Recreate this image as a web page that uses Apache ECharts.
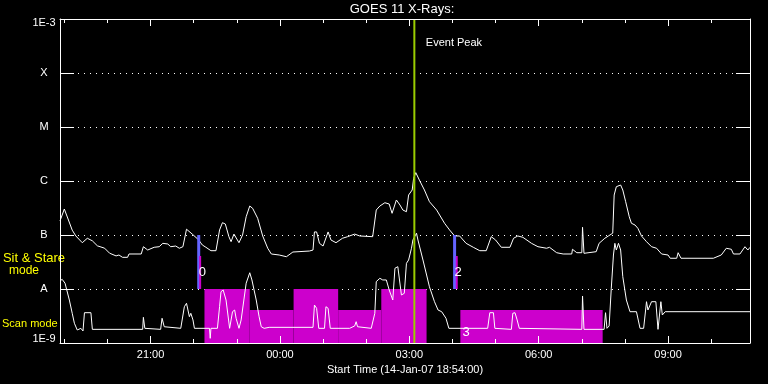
<!DOCTYPE html>
<html>
<head>
<meta charset="utf-8">
<script src="https://cdn.jsdelivr.net/npm/echarts@6/dist/echarts.min.js"></script>
<style>
html,body{margin:0;padding:0;background:#000;}
#chart{width:768px;height:384px;}
</style>
</head>
<body>
<div id="chart"></div>
<script>
// ---- Data (time = minutes after start 14-Jan-07 18:54:00; flux in W/m^2) ----
const chartTitle = 'GOES 11 X-Rays:';
const xAxisTitle = 'Start Time (14-Jan-07 18:54:00)';

const minorTickMinutes = [6, 66, 126, 186, 246, 306, 366, 426, 486, 546, 606, 666, 726, 786, 846, 906];
const majorTickMinutes = [126, 306, 486, 666, 846];
const xTickLabels = ['21:00', '00:00', '03:00', '06:00', '09:00'];

const yTickExponents = [-9, -8, -7, -6, -5, -4, -3];
const yTickLabels = ['1E-9', 'A', 'B', 'C', 'M', 'X', '1E-3'];

// Long channel (upper curve)
const longTime = [
  0, 6, 17, 22, 31, 38, 45, 52, 62, 69,
  78, 82, 87, 94, 96, 113, 116, 122, 131, 138,
  143, 150, 154, 161, 166, 171, 176, 184, 193, 198,
  203, 210, 217, 222, 226, 230, 235, 238, 242, 249,
  254, 259, 264, 268, 275, 282, 289, 294, 305, 315,
  324, 347, 352, 354, 357, 361, 366, 369, 373, 377,
  384, 393, 400, 410, 417, 435, 440, 445, 452, 458,
  462, 468, 473, 477, 482, 485, 490, 492, 495, 500,
  507, 514, 524, 535, 542, 549, 556, 565, 575, 584,
  593, 600, 606, 614, 626, 631, 637, 644, 656, 665,
  677, 681, 691, 700, 712, 713, 719, 726, 727, 729,
  746, 750, 758, 763, 769, 771, 774, 780, 783, 787,
  792, 795, 800, 804, 809, 816, 823, 830, 837, 846,
  849, 858, 860, 864, 909, 920, 927, 934, 937, 946,
  953, 957, 960
];
const longFlux = [
  1.82e-7, 3.03e-7, 1.23e-7, 9.6e-8, 7.2e-8, 8.7e-8, 7.8e-8, 6.3e-8, 5.7e-8, 4.6e-8,
  4.1e-8, 4.26e-8, 3.86e-8, 3.86e-8, 4.45e-8, 4.45e-8, 6.07e-8, 5.27e-8, 5.92e-8, 6.07e-8,
  7.01e-8, 6.81e-8, 6.07e-8, 6.25e-8, 5.68e-8, 6.07e-8, 1.28e-7, 1.04e-7, 8.08e-8, 6.53e-8,
  5.92e-8, 5.12e-8, 5.12e-8, 1.24e-7, 1.69e-7, 1.60e-7, 9.3e-8, 7.52e-8, 1.04e-7, 7.2e-8,
  1.0e-7, 2.18e-7, 3.44e-7, 3.12e-7, 2.04e-7, 9.6e-8, 5.68e-8, 4.45e-8, 4.26e-8, 3.96e-8,
  4.84e-8, 5.05e-8, 5.27e-8, 1.14e-7, 1.14e-7, 7.01e-8, 6.25e-8, 8.08e-8, 1.14e-7, 8.08e-8,
  7.2e-8, 8.7e-8, 9.3e-8, 1.04e-7, 9.6e-8, 9.3e-8, 2.90e-7, 3.44e-7, 3.96e-7, 3.75e-7,
  2.52e-7, 4.45e-7, 3.59e-7, 2.90e-7, 2.70e-7, 5.50e-7, 6.81e-7, 1.12e-6, 1.43e-6, 1.04e-6,
  6.81e-7, 4.14e-7, 2.90e-7, 1.65e-7, 1.24e-7, 9.6e-8, 9.6e-8, 7.01e-8, 5.92e-8, 5.12e-8,
  5.12e-8, 9.3e-8, 8.08e-8, 5.92e-8, 5.92e-8, 8.7e-8, 9.6e-8, 9.06e-8, 7.01e-8, 6.07e-8,
  5.68e-8, 5.92e-8, 4.70e-8, 4.45e-8, 4.45e-8, 5.44e-8, 4.70e-8, 4.70e-8, 1.39e-7, 4.58e-8,
  4.91e-8, 7.01e-8, 8.7e-8, 9.6e-8, 1.08e-7, 5.50e-7, 7.84e-7, 8.43e-7, 6.81e-7, 4.14e-7,
  2.18e-7, 1.65e-7, 1.53e-7, 1.33e-7, 9.6e-8, 7.52e-8, 6.07e-8, 5.68e-8, 4.45e-8, 4.26e-8,
  3.71e-8, 3.71e-8, 4.70e-8, 3.71e-8, 3.71e-8, 4.26e-8, 5.68e-8, 5.44e-8, 4.45e-8, 4.45e-8,
  6.07e-8, 5.27e-8, 5.92e-8
];

// Short channel (lower curve)
const shortTime = [
  0, 3, 7, 13, 17, 20, 24, 29, 32, 34,
  43, 45, 115, 116, 118, 140, 142, 145, 168, 173,
  176, 180, 182, 185, 187, 208, 209, 210, 219, 222,
  224, 227, 231, 236, 240, 243, 245, 249, 252, 259,
  264, 267, 273, 277, 280, 284, 291, 352, 354, 357,
  360, 368, 370, 373, 376, 403, 410, 412, 414, 433,
  438, 440, 445, 449, 454, 458, 463, 466, 470, 475,
  479, 482, 485, 489, 491, 496, 498, 505, 514, 521,
  526, 531, 537, 541, 595, 598, 603, 605, 628, 630,
  633, 636, 639, 726, 727, 729, 757, 759, 761, 764,
  767, 770, 772, 774, 777, 780, 783, 788, 793, 802,
  807, 812, 816, 818, 823, 829, 832, 836, 838, 842,
  960
];
const shortFlux = [
  1.41e-8, 1.51e-8, 1.28e-8, 6.25e-9, 3.55e-9, 2.32e-9, 1.74e-9, 1.87e-9, 1.67e-9, 3.64e-9,
  3.64e-9, 1.79e-9, 1.79e-9, 2.99e-9, 1.87e-9, 1.79e-9, 2.87e-9, 2.0e-9, 1.87e-9, 4.70e-9,
  5.44e-9, 3.07e-9, 3.55e-9, 2.67e-9, 1.87e-9, 1.87e-9, 1.22e-9, 1.87e-9, 1.87e-9, 4.70e-9,
  8.91e-9, 9.6e-9, 6.25e-9, 1.87e-9, 3.80e-9, 4.08e-9, 2.87e-9, 1.87e-9, 2.67e-9, 1.28e-8,
  2.0e-8, 1.47e-8, 6.25e-9, 3.07e-9, 2.0e-9, 1.87e-9, 1.95e-9, 1.95e-9, 5.05e-9, 4.39e-9,
  1.87e-9, 1.87e-9, 4.70e-9, 4.39e-9, 1.87e-9, 1.87e-9, 2.07e-9, 2.48e-9, 2.0e-9, 1.87e-9,
  3.55e-9, 1.37e-8, 1.58e-8, 1.47e-8, 1.47e-8, 9.6e-9, 6.25e-9, 2.42e-8, 2.59e-8, 7.74e-9,
  8.32e-9, 2.99e-8, 3.44e-8, 5.68e-8, 8.08e-8, 1.08e-7, 8.08e-8, 3.44e-8, 1.10e-8, 5.82e-9,
  4.08e-9, 3.80e-9, 2.87e-9, 1.87e-9, 1.87e-9, 3.64e-9, 3.64e-9, 1.87e-9, 1.79e-9, 3.55e-9,
  3.64e-9, 2.67e-9, 1.87e-9, 1.79e-9, 7.42e-9, 1.79e-9, 1.79e-9, 3.64e-9, 1.87e-9, 2.07e-9,
  1.03e-8, 4.26e-8, 7.01e-8, 5.27e-8, 7.01e-8, 5.27e-8, 1.69e-8, 6.25e-9, 3.80e-9, 3.80e-9,
  1.87e-9, 1.87e-9, 5.82e-9, 4.08e-9, 5.82e-9, 5.82e-9, 1.79e-9, 5.82e-9, 3.30e-9, 3.80e-9,
  3.80e-9
];

// Scan-mode periods (magenta blocks)
const scanStart = [201, 264, 325, 387, 447, 557];
const scanEnd   = [264, 325, 387, 447, 510, 755];
const scanTop   = [1e-8, 4.08e-9, 1e-8, 4.08e-9, 1e-8, 4.08e-9];

// Sit & Stare pointings (blue bars + magenta markers + numbers)
const stareTime = [193, 549];
const stareTop = [1e-7, 1e-7];
const stareBottom = [1e-8, 1e-8];
const stareMarkTime = [195, 552];
const stareMarkTop = [4.08e-8, 4.08e-8];
const pointLabel = ['0', '2', '3'];
const pointLabelTime = [198, 554, 565];
const pointLabelFlux = [2.07e-8, 2.07e-8, 1.6e-9];

// Event peak
const eventPeakTime = [493];
const eventPeakText = ['Event Peak'];
const eventPeakTextTime = [509];
const eventPeakTextFlux = [3.59e-4];

const yMin = 1e-9, yMax = 1e-3;

// ---- Chart ----
const FONT = 'Liberation Sans';
const WHITE = '#ffffff';
const YELLOW = '#ffff00';
const MAGENTA = '#cc00cc';
const BLUE = '#6464ff';
const GREEN = '#9acd00';

function pairs(t, v) { return t.map((x, i) => [x, v[i]]); }

function xLabel(v) {
  const i = majorTickMinutes.indexOf(v);
  return i >= 0 ? xTickLabels[i] : '';
}
function yLabel(v) {
  const e = Math.round(Math.log10(v));
  const i = yTickExponents.indexOf(e);
  if (i < 0) return '';
  if (i === yTickExponents.length - 1) return '{top|' + yTickLabels[i] + '}';
  if (i === 0) return '{bot|' + yTickLabels[i] + '}';
  return yTickLabels[i];
}

function xAxisDef(position, tickValues, tickLen, showLine, showLabel, extra) {
  return Object.assign({
    type: 'value', min: 0, max: 960, position: position, z: 10,
    axisLine: { show: showLine, onZero: false, lineStyle: { color: WHITE, width: 1 } },
    axisTick: { show: true, inside: true, length: tickLen, customValues: tickValues, lineStyle: { color: WHITE, width: 1 } },
    axisLabel: showLabel ? { show: true, customValues: majorTickMinutes, formatter: xLabel, color: WHITE, fontFamily: FONT, fontSize: 11, margin: 6 } : { show: false },
    splitLine: { show: false }
  }, extra || {});
}

const chart = echarts.init(document.getElementById('chart'), null, { renderer: 'canvas' });

const option = {
  backgroundColor: '#000000',
  animation: false,
  grid: { left: 60, right: 18, top: 19, bottom: 41, outerBoundsMode: 'none', containLabel: false },
  xAxis: [
    xAxisDef('bottom', minorTickMinutes, 4, true, true, {
      name: xAxisTitle, nameLocation: 'middle', nameGap: 19,
      nameTextStyle: { color: WHITE, fontFamily: FONT, fontSize: 11, verticalAlign: 'top' }
    }),
    xAxisDef('bottom', majorTickMinutes, 7, false, false),
    xAxisDef('top', minorTickMinutes, 4, true, false),
    xAxisDef('top', majorTickMinutes, 7, false, false)
  ],
  yAxis: [
    {
      type: 'log', logBase: 10, min: yMin, max: yMax, splitNumber: 6, position: 'left',
      axisLine: { show: true, onZero: false, lineStyle: { color: WHITE, width: 1 } },
      axisTick: { show: true, inside: true, length: 14, lineStyle: { color: WHITE, width: 1 } },
      axisLabel: {
        show: true, formatter: yLabel, color: WHITE, fontFamily: FONT, fontSize: 11, align: 'center', margin: 16,
        rich: {
          top: { color: WHITE, fontFamily: FONT, fontSize: 11, padding: [8, 0, 0, 0] },
          bot: { color: WHITE, fontFamily: FONT, fontSize: 11, padding: [0, 0, 8, 0] }
        }
      },
      splitLine: { show: true, lineStyle: { color: WHITE, width: 1, type: [1, 5] } },
      minorTick: { show: false }
    },
    {
      type: 'log', logBase: 10, min: yMin, max: yMax, splitNumber: 6, position: 'right',
      axisLine: { show: true, onZero: false, lineStyle: { color: WHITE, width: 1 } },
      axisTick: { show: true, inside: true, length: 14, lineStyle: { color: WHITE, width: 1 } },
      axisLabel: { show: false },
      splitLine: { show: false }
    }
  ],
  graphic: [
    { type: 'text', x: 402, y: 9, style: { text: chartTitle, fill: WHITE, font: '13px "Liberation Sans"', align: 'center', verticalAlign: 'middle' } },
    { type: 'text', x: 34, y: 258, style: { text: 'Sit & Stare', fill: YELLOW, font: '13px "Liberation Sans"', align: 'center', verticalAlign: 'middle' } },
    { type: 'text', x: 24, y: 271, style: { text: 'mode', fill: YELLOW, font: '12px "Liberation Sans"', align: 'center', verticalAlign: 'middle' } },
    { type: 'text', x: 2, y: 324, style: { text: 'Scan mode', fill: YELLOW, font: '11px "Liberation Sans"', align: 'left', verticalAlign: 'middle' } }
  ],
  series: [
    {
      name: 'Scan mode', type: 'custom', coordinateSystem: 'cartesian2d', z: 1,
      data: scanStart.map((s, i) => [s, scanEnd[i], scanTop[i]]),
      encode: { x: [0, 1], y: 2 },
      renderItem: function (params, api) {
        const p0 = api.coord([api.value(0), api.value(2)]);
        const p1 = api.coord([api.value(1), yMin]);
        return { type: 'rect', shape: { x: p0[0], y: p0[1], width: p1[0] - p0[0], height: p1[1] - p0[1] }, style: { fill: MAGENTA } };
      }
    },
    {
      name: 'Long', type: 'line', z: 2, data: pairs(longTime, longFlux),
      showSymbol: false, symbol: 'none', lineStyle: { color: WHITE, width: 1 }, silent: true
    },
    {
      name: 'Short', type: 'line', z: 2, data: pairs(shortTime, shortFlux),
      showSymbol: false, symbol: 'none', lineStyle: { color: WHITE, width: 1 }, silent: true
    },
    {
      name: 'Stare', type: 'custom', coordinateSystem: 'cartesian2d', z: 3,
      data: stareTime.map((t, i) => [t, stareTop[i], stareBottom[i]]),
      encode: { x: 0, y: [1, 2] },
      renderItem: function (params, api) {
        const a = api.coord([api.value(0), api.value(1)]);
        const b = api.coord([api.value(0), api.value(2)]);
        return { type: 'rect', shape: { x: a[0] - 1.5, y: a[1], width: 3, height: b[1] - a[1] }, style: { fill: BLUE } };
      }
    },
    {
      name: 'StareMark', type: 'custom', coordinateSystem: 'cartesian2d', z: 4,
      data: stareMarkTime.map((t, i) => [t, stareMarkTop[i], stareBottom[i]]),
      encode: { x: 0, y: [1, 2] },
      renderItem: function (params, api) {
        const a = api.coord([api.value(0), api.value(1)]);
        const b = api.coord([api.value(0), api.value(2)]);
        return { type: 'rect', shape: { x: a[0] - 1, y: a[1], width: 2, height: b[1] - a[1] }, style: { fill: MAGENTA } };
      }
    },
    {
      name: 'Labels', type: 'custom', coordinateSystem: 'cartesian2d', z: 6,
      data: pointLabelTime.map((t, i) => [t, pointLabelFlux[i], pointLabel[i]]),
      encode: { x: 0, y: 1 },
      renderItem: function (params, api) {
        const p = api.coord([api.value(0), api.value(1)]);
        return { type: 'text', x: p[0], y: p[1], style: { text: pointLabel[params.dataIndex], fill: WHITE, font: '13px "Liberation Sans"', align: 'center', verticalAlign: 'middle' } };
      }
    },
    {
      name: 'EventPeak', type: 'custom', coordinateSystem: 'cartesian2d', z: 5,
      data: eventPeakTime.map((t) => [t, yMin, yMax]),
      encode: { x: 0, y: [1, 2] },
      renderItem: function (params, api) {
        const a = api.coord([api.value(0), yMax]);
        const b = api.coord([api.value(0), yMin]);
        return { type: 'rect', shape: { x: a[0] - 1, y: a[1], width: 2, height: b[1] - a[1] }, style: { fill: GREEN } };
      }
    },
    {
      name: 'EventPeakText', type: 'custom', coordinateSystem: 'cartesian2d', z: 6,
      data: eventPeakTextTime.map((t, i) => [t, eventPeakTextFlux[i]]),
      encode: { x: 0, y: 1 },
      renderItem: function (params, api) {
        const p = api.coord([api.value(0), api.value(1)]);
        return { type: 'text', x: p[0], y: p[1], style: { text: eventPeakText[params.dataIndex], fill: WHITE, font: '11px "Liberation Sans"', align: 'left', verticalAlign: 'middle' } };
      }
    }
  ]
};

chart.setOption(option);
</script>
</body>
</html>
